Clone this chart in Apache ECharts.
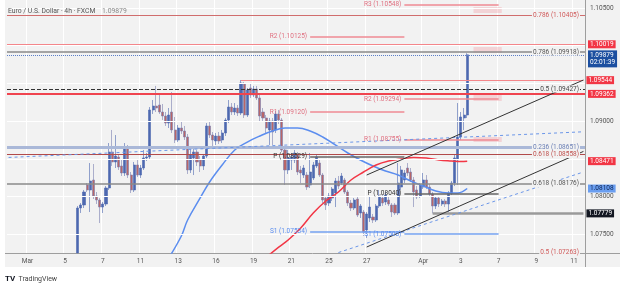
<!DOCTYPE html>
<html>
<head>
<meta charset="utf-8">
<script src="https://cdn.jsdelivr.net/npm/echarts@6/dist/echarts.min.js"></script>
<style>
  html, body { margin: 0; padding: 0; background: #ffffff; }
  #panel { position: absolute; left: 5px; top: 0; width: 615px; height: 267px; background: #f2f2f2; }
  #chart { position: absolute; left: 0; top: 0; width: 625px; height: 286px; }
</style>
</head>
<body>
<div id="panel"></div>
<div id="chart"></div>
<script>
// ---- time axis (4h bars, 6 per trading day) ----
const tradingDays = ['Feb 28',
  'Mar 3', 'Mar 4', 'Mar 5', 'Mar 6', 'Mar 7',
  'Mar 10', 'Mar 11', 'Mar 12', 'Mar 13', 'Mar 14',
  'Mar 17', 'Mar 18', 'Mar 19', 'Mar 20', 'Mar 21',
  'Mar 24', 'Mar 25', 'Mar 26', 'Mar 27', 'Mar 28',
  'Mar 31', 'Apr 1', 'Apr 2', 'Apr 3', 'Apr 4',
  'Apr 7', 'Apr 8', 'Apr 9', 'Apr 10', 'Apr 11'];
const barHours = ['01', '05', '09', '13', '17', '21'];
const tickDays = ['Mar 3', 'Mar 5', 'Mar 7', 'Mar 11', 'Mar 13', 'Mar 17', 'Mar 19', 'Mar 21',
  'Mar 25', 'Mar 27', 'Apr 1', 'Apr 3', 'Apr 7', 'Apr 9', 'Apr 11'];
const tickTexts = ['Mar', '5', '7', '11', '13', '16', '19', '21', '25', '27', 'Apr', '3', '7', '9', '11'];
const lastVisibleBar = 183;

// ---- EUR/USD candles [open, close, low, high], starting at bar 22 ----
const firstCandle = 22;
const candles = [
  [1.07255, 1.07850, 1.07254, 1.07877],
  [1.07850, 1.07890, 1.07784, 1.07916],
  [1.07890, 1.08062, 1.07850, 1.08089],
  [1.08155, 1.08089, 1.08062, 1.08181],
  [1.08089, 1.08208, 1.07797, 1.08446],
  [1.08221, 1.08009, 1.07969, 1.08433],
  [1.08009, 1.07956, 1.07903, 1.08062],
  [1.07956, 1.07863, 1.07651, 1.07983],
  [1.07863, 1.07903, 1.07784, 1.07930],
  [1.07903, 1.08115, 1.07877, 1.08141],
  [1.08115, 1.08592, 1.08089, 1.08711],
  [1.08592, 1.08460, 1.08407, 1.08884],
  [1.08460, 1.08539, 1.08380, 1.08817],
  [1.08526, 1.08393, 1.08354, 1.08566],
  [1.08407, 1.08314, 1.08274, 1.08486],
  [1.08314, 1.08645, 1.08274, 1.08711],
  [1.08645, 1.08287, 1.08248, 1.08685],
  [1.08287, 1.08089, 1.08049, 1.08327],
  [1.08089, 1.08420, 1.08062, 1.08460],
  [1.08420, 1.08287, 1.08261, 1.08486],
  [1.08287, 1.08380, 1.08248, 1.08420],
  [1.08380, 1.08513, 1.08354, 1.08619],
  [1.08513, 1.08526, 1.08473, 1.08579],
  [1.08526, 1.09149, 1.08499, 1.09188],
  [1.09149, 1.09201, 1.09096, 1.09281],
  [1.09201, 1.09175, 1.09122, 1.09467],
  [1.09215, 1.09122, 1.09096, 1.09347],
  [1.09122, 1.09069, 1.09016, 1.09228],
  [1.09069, 1.08976, 1.08937, 1.09122],
  [1.08976, 1.09082, 1.08910, 1.09175],
  [1.09122, 1.08884, 1.08844, 1.09387],
  [1.08884, 1.08751, 1.08711, 1.09056],
  [1.08751, 1.08910, 1.08725, 1.08950],
  [1.08910, 1.08870, 1.08831, 1.08990],
  [1.08870, 1.08791, 1.08751, 1.08937],
  [1.08791, 1.08354, 1.08301, 1.08831],
  [1.08354, 1.08552, 1.08314, 1.08658],
  [1.08513, 1.08592, 1.08287, 1.08658],
  [1.08592, 1.08460, 1.08407, 1.08619],
  [1.08486, 1.08407, 1.08327, 1.08539],
  [1.08407, 1.08539, 1.08354, 1.08566],
  [1.08539, 1.08937, 1.08513, 1.08976],
  [1.08937, 1.08817, 1.08778, 1.08990],
  [1.08817, 1.08751, 1.08658, 1.08857],
  [1.08738, 1.08804, 1.08685, 1.08844],
  [1.08804, 1.08738, 1.08698, 1.08857],
  [1.08751, 1.08844, 1.08711, 1.08884],
  [1.08844, 1.09016, 1.08804, 1.09043],
  [1.09016, 1.09188, 1.08976, 1.09281],
  [1.09188, 1.09122, 1.09082, 1.09241],
  [1.09122, 1.09175, 1.09082, 1.09241],
  [1.09175, 1.09109, 1.09069, 1.09215],
  [1.09109, 1.09506, 1.09082, 1.09546],
  [1.09493, 1.09082, 1.09043, 1.09520],
  [1.09082, 1.09414, 1.09056, 1.09440],
  [1.09440, 1.09347, 1.09308, 1.09493],
  [1.09347, 1.09427, 1.09321, 1.09467],
  [1.09427, 1.09308, 1.09281, 1.09467],
  [1.09308, 1.09069, 1.08990, 1.09347],
  [1.09122, 1.09043, 1.09003, 1.09175],
  [1.09043, 1.08910, 1.08831, 1.09082],
  [1.08884, 1.09003, 1.08685, 1.09043],
  [1.09003, 1.08857, 1.08685, 1.09043],
  [1.08884, 1.09096, 1.08844, 1.09135],
  [1.09096, 1.09016, 1.08963, 1.09149],
  [1.09016, 1.08619, 1.08592, 1.09043],
  [1.08619, 1.08354, 1.08155, 1.08645],
  [1.08354, 1.08513, 1.08301, 1.08619],
  [1.08486, 1.08526, 1.08354, 1.08579],
  [1.08486, 1.08579, 1.08446, 1.08619],
  [1.08552, 1.08327, 1.08287, 1.08592],
  [1.08354, 1.08314, 1.08181, 1.08407],
  [1.08287, 1.08380, 1.08248, 1.08420],
  [1.08287, 1.08128, 1.08089, 1.08327],
  [1.08155, 1.08327, 1.08115, 1.08579],
  [1.08248, 1.08420, 1.08221, 1.08460],
  [1.08407, 1.08526, 1.08380, 1.08552],
  [1.08446, 1.08287, 1.08261, 1.08486],
  [1.08287, 1.07956, 1.07916, 1.08314],
  [1.07983, 1.07890, 1.07824, 1.08009],
  [1.07916, 1.08009, 1.07877, 1.08049],
  [1.07983, 1.08102, 1.07943, 1.08128],
  [1.08049, 1.08208, 1.07863, 1.08248],
  [1.08208, 1.08141, 1.08102, 1.08274],
  [1.08181, 1.08274, 1.08155, 1.08314],
  [1.08221, 1.08062, 1.08036, 1.08248],
  [1.08062, 1.07916, 1.07877, 1.08089],
  [1.07916, 1.07850, 1.07810, 1.07956],
  [1.07850, 1.07956, 1.07824, 1.07983],
  [1.07969, 1.07757, 1.07731, 1.07996],
  [1.07784, 1.07877, 1.07718, 1.07903],
  [1.07797, 1.07532, 1.07479, 1.07824],
  [1.07559, 1.07771, 1.07453, 1.07797],
  [1.07718, 1.07863, 1.07665, 1.07996],
  [1.07731, 1.07691, 1.07651, 1.07771],
  [1.07691, 1.07877, 1.07665, 1.07903],
  [1.07877, 1.08009, 1.07850, 1.08089],
  [1.07983, 1.07916, 1.07877, 1.08022],
  [1.07930, 1.08022, 1.07890, 1.08062],
  [1.07956, 1.07903, 1.07877, 1.07996],
  [1.07890, 1.07797, 1.07731, 1.07916],
  [1.07890, 1.07784, 1.07757, 1.07916],
  [1.07784, 1.08181, 1.07757, 1.08446],
  [1.08128, 1.08354, 1.08089, 1.08407],
  [1.08221, 1.08314, 1.08181, 1.08354],
  [1.08380, 1.08314, 1.08274, 1.08446],
  [1.08327, 1.08221, 1.08195, 1.08380],
  [1.08221, 1.08062, 1.07863, 1.08261],
  [1.08089, 1.07996, 1.07969, 1.08141],
  [1.08009, 1.08155, 1.07983, 1.08181],
  [1.08128, 1.08221, 1.08102, 1.08314],
  [1.08221, 1.08128, 1.08102, 1.08287],
  [1.08128, 1.08036, 1.07996, 1.08168],
  [1.08036, 1.07877, 1.07779, 1.08062],
  [1.07877, 1.07983, 1.07837, 1.08009],
  [1.07983, 1.07903, 1.07863, 1.08009],
  [1.07903, 1.07943, 1.07877, 1.07969],
  [1.07943, 1.07903, 1.07863, 1.07969],
  [1.07903, 1.08049, 1.07797, 1.08075],
  [1.08049, 1.08181, 1.08022, 1.08208],
  [1.08181, 1.08513, 1.08141, 1.08552],
  [1.08486, 1.08791, 1.08155, 1.09241],
  [1.08791, 1.09056, 1.08751, 1.09122],
  [1.09043, 1.09082, 1.08884, 1.09175],
  [1.09082, 1.09879, 1.09043, 1.09900]
];

// ---- moving averages (bar index, price) ----
const blueMaBars = [51, 55, 57, 61, 64, 68, 72, 76, 80, 84, 88, 92, 96, 100, 104, 108, 112, 116, 120, 124, 128, 132, 136, 140, 143, 146];
const blueMaValues = [1.07188, 1.07479, 1.07691, 1.07983, 1.08195, 1.08420, 1.08619, 1.08724, 1.08804, 1.08870,
  1.08910, 1.08910, 1.08870, 1.08791, 1.08685, 1.08579, 1.08486, 1.08407, 1.08340, 1.08287,
  1.08208, 1.08142, 1.08075, 1.08049, 1.08049, 1.08108];
const redMaBars = [83, 86, 89, 93, 97, 101, 105, 109, 113, 117, 121, 125, 129, 133, 137, 141, 144, 146];
const redMaValues = [1.07230, 1.07333, 1.07426, 1.07585, 1.07784, 1.07943, 1.08062, 1.08221, 1.08327, 1.08420,
  1.08473, 1.08499, 1.08519, 1.08513, 1.08486, 1.08473, 1.08466, 1.08471];

// ---- price axis ----
const priceMin = 1.07254;
const priceMax = 1.10606;
const priceTicks = [1.075, 1.08, 1.09, 1.105];
const gridPrices = [1.075, 1.08, 1.085, 1.09, 1.095, 1.10, 1.105];

// ---- fibonacci levels (full width) ----
const fibValues = [1.10405, 1.09918, 1.09427, 1.08651, 1.08558, 1.08176, 1.07263];
const fibNames = ['0.786', '0.786', '0.5', '0.236', '0.618', '0.618', '0.5'];

// ---- horizontal alerts / rays / badges ----
const alertValues = [1.10019, 1.09362];
const rayValues = [1.09544, 1.07779];
const rayStartBars = [74, 135];
const maBadgeValues = [1.08471, 1.08108];
const lastPrice = 1.09879;
const countdown = '02:01:39';

// ---- weekly pivots ----
const prevPivotNames = ['R2', 'R1', 'P', 'S1'];
const prevPivotValues = [1.10125, 1.09120, 1.08529, 1.07534];
const curPivotNames = ['R3', 'R2', 'R1', 'P', 'S1'];
const curPivotValues = [1.10548, 1.09294, 1.08755, 1.08040, 1.07503];
const prevWeekStart = 'Mar 24', curWeekStart = 'Mar 31', nextWeekStart = 'Apr 7';
const boxLows = [1.10434, 1.09904, 1.09268, 1.08725];
const boxHighs = [1.10513, 1.09983, 1.09347, 1.08791];
const boxBars = [148, 157];

// ---- trend lines ----
const trendFromBars = [0, 105, 114, 114];
const trendFromValues = [1.08520, 1.07260, 1.08287, 1.07333];
const trendToBars = [183, 183, 183, 183];
const trendToValues = [1.08860, 1.08327, 1.09546, 1.08600];

// ---------------------------------------------------------------
const FONT = 'Roboto';
const categories = tradingDays.flatMap(d => barHours.map(h => d + ' ' + h));
const dayBar = d => tradingDays.indexOf(d) * barHours.length;
const tickBars = tickDays.map(dayBar);
const tickTextByBar = {};
tickBars.forEach((b, i) => { tickTextByBar[b] = tickTexts[i]; });

const candleData = Array(firstCandle).fill('-').concat(candles);
const fmt = v => v.toFixed(5);

function badge(bg, fg, text) {
  return {
    show: true, position: 'end', distance: 3, formatter: text,
    color: fg, backgroundColor: bg, padding: [1, 2, 0, 2],
    fontSize: 6.5, fontFamily: FONT, lineHeight: 7
  };
}

const fibLineStyles = [
  { color: '#d06d6d', width: 1, type: 'solid' },
  { color: '#8a8a8a', width: 1.5, type: 'solid' },
  { color: '#333333', width: 1, type: 'dashed' },
  { color: '#aab8d8', width: 3, type: 'solid' },
  { color: '#b24a4a', width: 1, type: 'solid' },
  { color: '#8a8a8a', width: 1.5, type: 'solid' },
  { color: 'rgba(224, 102, 102, 0)', width: 1, type: 'solid' }
];
const fibLabelColors = ['#d05a5a', '#555555', '#444444', '#6a7fb5', '#c0504d', '#555555', '#d05a5a'];

const pivotColor = n => n[0] === 'R' ? '#ef8a93' : (n[0] === 'P' ? '#666666' : '#74a2f0');
const pivotLabelColor = n => n[0] === 'R' ? '#e07080' : (n[0] === 'P' ? '#333333' : '#5b8def');

const marks = [];
fibValues.forEach((v, i) => marks.push({
  yAxis: v, lineStyle: fibLineStyles[i],
  label: {
    show: true, position: 'insideEnd', distance: 5,
    formatter: fibNames[i] + ' (' + fmt(v) + ')',
    color: fibLabelColors[i], fontSize: 6.5, fontFamily: FONT,
    backgroundColor: '#f2f2f2', padding: [0, 1]
  }
}));
alertValues.forEach((v, i) => marks.push({
  yAxis: v,
  lineStyle: i === 0 ? { color: '#f4868a', width: 1, type: 'solid' } : { color: '#f0444f', width: 2, type: 'solid' },
  label: badge('#f23645', '#ffffff', fmt(v))
}));
rayValues.forEach((v, i) => marks.push([
  { coord: [rayStartBars[i], v],
    lineStyle: i === 0 ? { color: '#f4868a', width: 1, type: 'solid' } : { color: '#9a9a9a', width: 2.5, type: 'solid' },
    label: i === 0 ? badge('#f23645', '#ffffff', fmt(v)) : badge('#131722', '#ffffff', fmt(v)) },
  { coord: [lastVisibleBar, v] }
]));
maBadgeValues.forEach((v, i) => marks.push({
  yAxis: v, lineStyle: { color: 'rgba(0, 0, 0, 0)' },
  label: i === 0 ? badge('#f23645', '#ffffff', fmt(v)) : badge('#6a9ef0', '#0d2350', fmt(v))
}));
marks.push({
  yAxis: lastPrice, lineStyle: { color: '#5b7fc8', width: 1, type: 'dotted' },
  label: Object.assign(badge('#1c4fa0', '#ffffff', fmt(lastPrice) + '\n' + countdown),
    { padding: [1, 2], lineHeight: 7.5, offset: [0, 4] })
});
function pivots(names, values, from, to) {
  names.forEach((n, i) => marks.push([
    { coord: [from, values[i]],
      lineStyle: { color: pivotColor(n), width: 1.5, type: 'solid' },
      label: { show: true, position: 'start', distance: 3, formatter: n + ' (' + fmt(values[i]) + ')',
        color: pivotLabelColor(n), fontSize: 6.5, fontFamily: FONT } },
    { coord: [to, values[i]] }
  ]));
}
pivots(prevPivotNames, prevPivotValues, dayBar(prevWeekStart), dayBar(curWeekStart));
pivots(curPivotNames, curPivotValues, dayBar(curWeekStart), dayBar(nextWeekStart));
trendFromBars.forEach((b, i) => marks.push([
  { coord: [b, trendFromValues[i]],
    lineStyle: i < 2 ? { color: '#6b96e8', width: 1, type: [3, 3] } : { color: '#333333', width: 1, type: 'solid' },
    label: { show: false } },
  { coord: [trendToBars[i], trendToValues[i]] }
]));

const chart = echarts.init(document.getElementById('chart'), null, { renderer: 'canvas' });
chart.setOption({
  animation: false,
  backgroundColor: 'transparent',
  textStyle: { fontFamily: FONT },
  grid: { left: 7, right: 40, top: 0, bottom: 33 },
  xAxis: {
    type: 'category', data: categories, max: lastVisibleBar, boundaryGap: true,
    axisLine: { show: false }, axisTick: { show: false },
    axisLabel: {
      interval: idx => tickTextByBar[idx] !== undefined,
      formatter: (v, idx) => tickTextByBar[idx] || '',
      color: '#555555', fontSize: 6.5, fontFamily: FONT, margin: 5
    },
    splitLine: { show: true, interval: idx => tickTextByBar[idx] !== undefined, lineStyle: { color: '#ffffff', width: 1 } }
  },
  yAxis: {
    type: 'value', position: 'right', min: priceMin, max: priceMax, scale: true,
    axisLine: { show: false }, axisTick: { show: false }, splitLine: { show: false },
    axisLabel: { customValues: priceTicks, formatter: v => v.toFixed(5), color: '#555555', fontSize: 6.5, fontFamily: FONT, margin: 5 }
  },
  graphic: [
    { type: 'line', silent: true, z: 1, shape: { x1: 5, y1: 253.5, x2: 620, y2: 253.5 }, style: { stroke: '#9e9e9e', lineWidth: 1 } },
    { type: 'line', silent: true, z: 1, shape: { x1: 585.5, y1: 0, x2: 585.5, y2: 267 }, style: { stroke: '#9e9e9e', lineWidth: 1 } },
    { type: 'text', silent: true, z: 10, left: 8, top: 5,
      style: { text: '{a|Euro / U.S. Dollar · 4h · FXCM}  {b|' + fmt(lastPrice) + '}',
        rich: { a: { fill: '#555555', fontSize: 6.8, fontFamily: FONT }, b: { fill: '#8a8a8a', fontSize: 6.8, fontFamily: FONT } } } },
    { type: 'text', silent: true, left: 5, top: 273,
      style: { text: '{a|TV} {b|TradingView}',
        rich: { a: { fill: '#131722', fontSize: 8, fontWeight: 'bold', fontFamily: FONT }, b: { fill: '#444444', fontSize: 7, fontFamily: FONT } } } }
  ],
  series: [
    {
      name: 'grid', type: 'line', data: [], z: 1, silent: true, clip: false,
      markLine: { silent: true, symbol: ['none', 'none'], animation: false, precision: 5,
        data: gridPrices.map(v => ({ yAxis: v, lineStyle: { color: '#ffffff', width: 1, type: 'solid' }, label: { show: false } })) }
    },
    {
      name: 'EURUSD', type: 'candlestick', data: candleData, barWidth: 2.6, z: 2, clip: true,
      itemStyle: { color: '#4d68b0', color0: '#b86567', borderColor: '#4d68b0', borderColor0: '#7a7fb0', borderWidth: 0.6 }
    },
    {
      name: 'MA blue', type: 'line', data: blueMaBars.map((b, i) => [b, blueMaValues[i]]), smooth: 0.4,
      showSymbol: false, z: 3, clip: true, lineStyle: { color: '#5b8def', width: 1.5 }
    },
    {
      name: 'MA red', type: 'line', data: redMaBars.map((b, i) => [b, redMaValues[i]]), smooth: 0.4,
      showSymbol: false, z: 3, clip: true, lineStyle: { color: '#f23645', width: 1.5 }
    },
    {
      name: 'drawings', type: 'line', data: [], z: 4, silent: true, clip: false,
      markLine: { silent: true, symbol: ['none', 'none'], animation: false, precision: 5, data: marks },
      markArea: { silent: true, itemStyle: { color: 'rgba(242, 140, 150, 0.3)' },
        data: boxLows.map((lo, i) => [{ coord: [boxBars[0], lo] }, { coord: [boxBars[1], boxHighs[i]] }]) }
    }
  ]
});
</script>
</body>
</html>
